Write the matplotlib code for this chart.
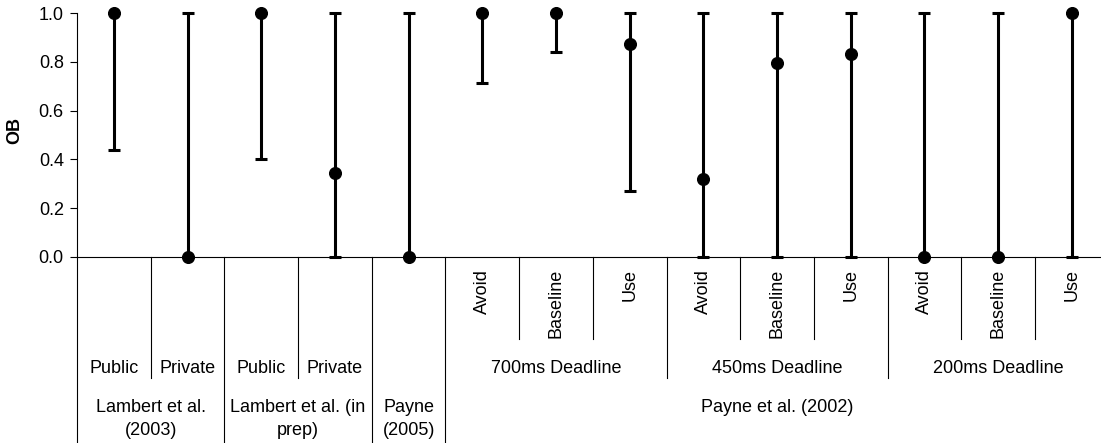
import matplotlib
matplotlib.use("Agg")
import matplotlib.pyplot as plt
import numpy as np

plt.rcParams["font.family"] = ["Liberation Sans", "DejaVu Sans"]
plt.rcParams["font.size"] = 13

# Category hierarchy (innermost level first)
level1 = ["", "", "", "", "",
          "Avoid", "Baseline", "Use",
          "Avoid", "Baseline", "Use",
          "Avoid", "Baseline", "Use"]
level2 = ["Public", "Private", "Public", "Private", "",
          "700ms Deadline", "700ms Deadline", "700ms Deadline",
          "450ms Deadline", "450ms Deadline", "450ms Deadline",
          "200ms Deadline", "200ms Deadline", "200ms Deadline"]
level3 = ["Lambert et al.\n(2003)", "Lambert et al.\n(2003)",
          "Lambert et al. (in\nprep)", "Lambert et al. (in\nprep)",
          "Payne\n(2005)"] + ["Payne et al. (2002)"] * 9

# OB estimates with lower / upper interval bounds
ob = [1.0, 0.0, 1.0, 0.345, 0.0, 1.0, 1.0, 0.873, 0.319, 0.797, 0.833, 0.0, 0.0, 1.0]
ob_low = [0.44, 0.0, 0.40, 0.0, 0.0, 0.712, 0.84, 0.269, 0.0, 0.0, 0.0, 0.0, 0.0, 0.0]
ob_high = [1.0] * 14

yticks = [0.0, 0.2, 0.4, 0.6, 0.8, 1.0]

n = len(ob)
x = np.arange(n) + 0.5
ob_a = np.array(ob)
err = [ob_a - np.array(ob_low), np.array(ob_high) - ob_a]

fig = plt.figure(figsize=(11.01, 4.43), dpi=100)
ax = fig.add_axes([77 / 1101, (443 - 256.7) / 443, 14 * 73.69 / 1101, 243.4 / 443])

cont = ax.errorbar(x, ob, yerr=err, fmt="o", color="black", ms=8.4,
                   elinewidth=2.2, capsize=4.2, capthick=2.2, zorder=3)
for art in cont.get_children():
    art.set_clip_on(False)

ax.set_xlim(0, n)
ax.set_ylim(0, 1)
ax.set_yticks(yticks)
ax.set_yticklabels([f"{v:.1f}" for v in yticks])
ax.tick_params(axis="y", direction="out", length=5, width=0.8, pad=4.5, labelsize=13)
ax.set_xticks([])
for side in ("top", "right"):
    ax.spines[side].set_visible(False)
for side in ("left", "bottom"):
    ax.spines[side].set_linewidth(0.8)

ax.set_ylabel("OB", fontweight="bold", fontsize=13)
ax.yaxis.set_label_coords(-0.0523, 0.52)

# depths of the separator lines in data units below the axis
y_full = -0.765
y_mid = -0.497
y_short = -0.339

def sep(k, y_end):
    ax.plot([k, k], [0, y_end], color="black", lw=0.8, clip_on=False, zorder=1)

for k in range(0, n + 1):
    if k == 0 or k == n:
        sep(k, y_full)
    elif level3[k - 1] != level3[k]:
        sep(k, y_full)
    elif level2[k - 1] != level2[k]:
        sep(k, y_mid)
    else:
        sep(k, y_short)

# innermost labels, rotated
for i, lab in enumerate(level1):
    if lab:
        ax.text(x[i], -0.0505, lab, rotation=90, ha="center", va="top", fontsize=13)

def runs(labels):
    out = []
    start = 0
    for i in range(1, len(labels) + 1):
        if i == len(labels) or labels[i] != labels[start]:
            out.append((start, i, labels[start]))
            start = i
    return out

for s, e, lab in runs(level2):
    if lab:
        ax.text((s + e) / 2, -0.479, lab, ha="center", va="baseline", fontsize=13)

line_gap = 0.093
for s, e, lab in runs(level3):
    if lab:
        for j, line in enumerate(lab.split("\n")):
            ax.text((s + e) / 2, -0.639 - j * line_gap, line,
                    ha="center", va="baseline", fontsize=13)

fig.savefig("out.png", dpi=100)
